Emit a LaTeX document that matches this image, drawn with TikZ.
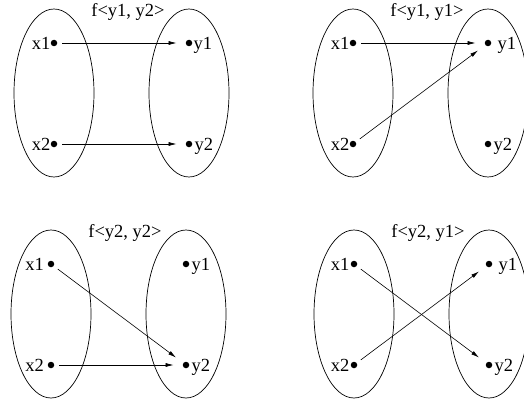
\documentclass[tikz,border=0pt]{standalone}
\usepackage{fontspec}
\setmainfont{Liberation Serif}
\usetikzlibrary{arrows.meta,shapes.geometric}
\tikzset{
  every node/.style={font=\fontsize{18.5}{22}\selectfont},
  set/.style={draw,ellipse,line width=0.7pt,inner sep=0pt,minimum width=80pt,minimum height=168pt},
  elt/.style={circle,fill,inner sep=0pt,minimum size=6.5pt},
  tag/.style={inner sep=0pt,text depth=0pt},
  map/.style={line width=0.6pt,-{Latex[length=8pt,width=4pt]},shorten <=5pt,shorten >=9pt},
}
\begin{document}
\begin{tikzpicture}[x=1pt,y=-1pt]
\useasboundingbox (0,0) rectangle (524,404);
% four panels: name/shift/title/label gaps
\foreach \p/\dx/\dy/\t/\lx/\ly in {a/0/0/{f<y1, y2>}/0pt/1pt, b/299/0/{f<y1, y1>}/0pt/6pt,
    c/-3/221/{f<y2, y2>}/3.5pt/2pt, d/300/221/{f<y2, y1>}/1pt/6pt}{
  \begin{scope}[shift={(\dx,\dy)}]
    \node[set] (\p X) at (54,93) {};
    \node[set] (\p Y) at (189,93) {};
    \node (\p f) at (128,12) {\t};
    \node[elt,label={[tag,label distance=\lx]left:x1}] (\p x1) at (54,43) {};
    \node[elt,label={[tag,label distance=\lx]left:x2}] (\p x2) at (54,144) {};
    \node[elt,label={[tag,label distance=\ly]right:y1}] (\p y1) at (189,43) {};
    \node[elt,label={[tag,label distance=2pt]right:y2}] (\p y2) at (189,144) {};
  \end{scope}
}
\draw[map] (ax1) -- (ay1);
\draw[map] (ax2) -- (ay2);
\draw[map] (bx1) -- (by1);
\draw[map] (bx2) -- (by1);
\draw[map] (cx1) -- (cy2);
\draw[map] (cx2) -- (cy2);
\draw[map] (dx1) -- (dy2);
\draw[map] (dx2) -- (dy1);
\end{tikzpicture}
\end{document}
